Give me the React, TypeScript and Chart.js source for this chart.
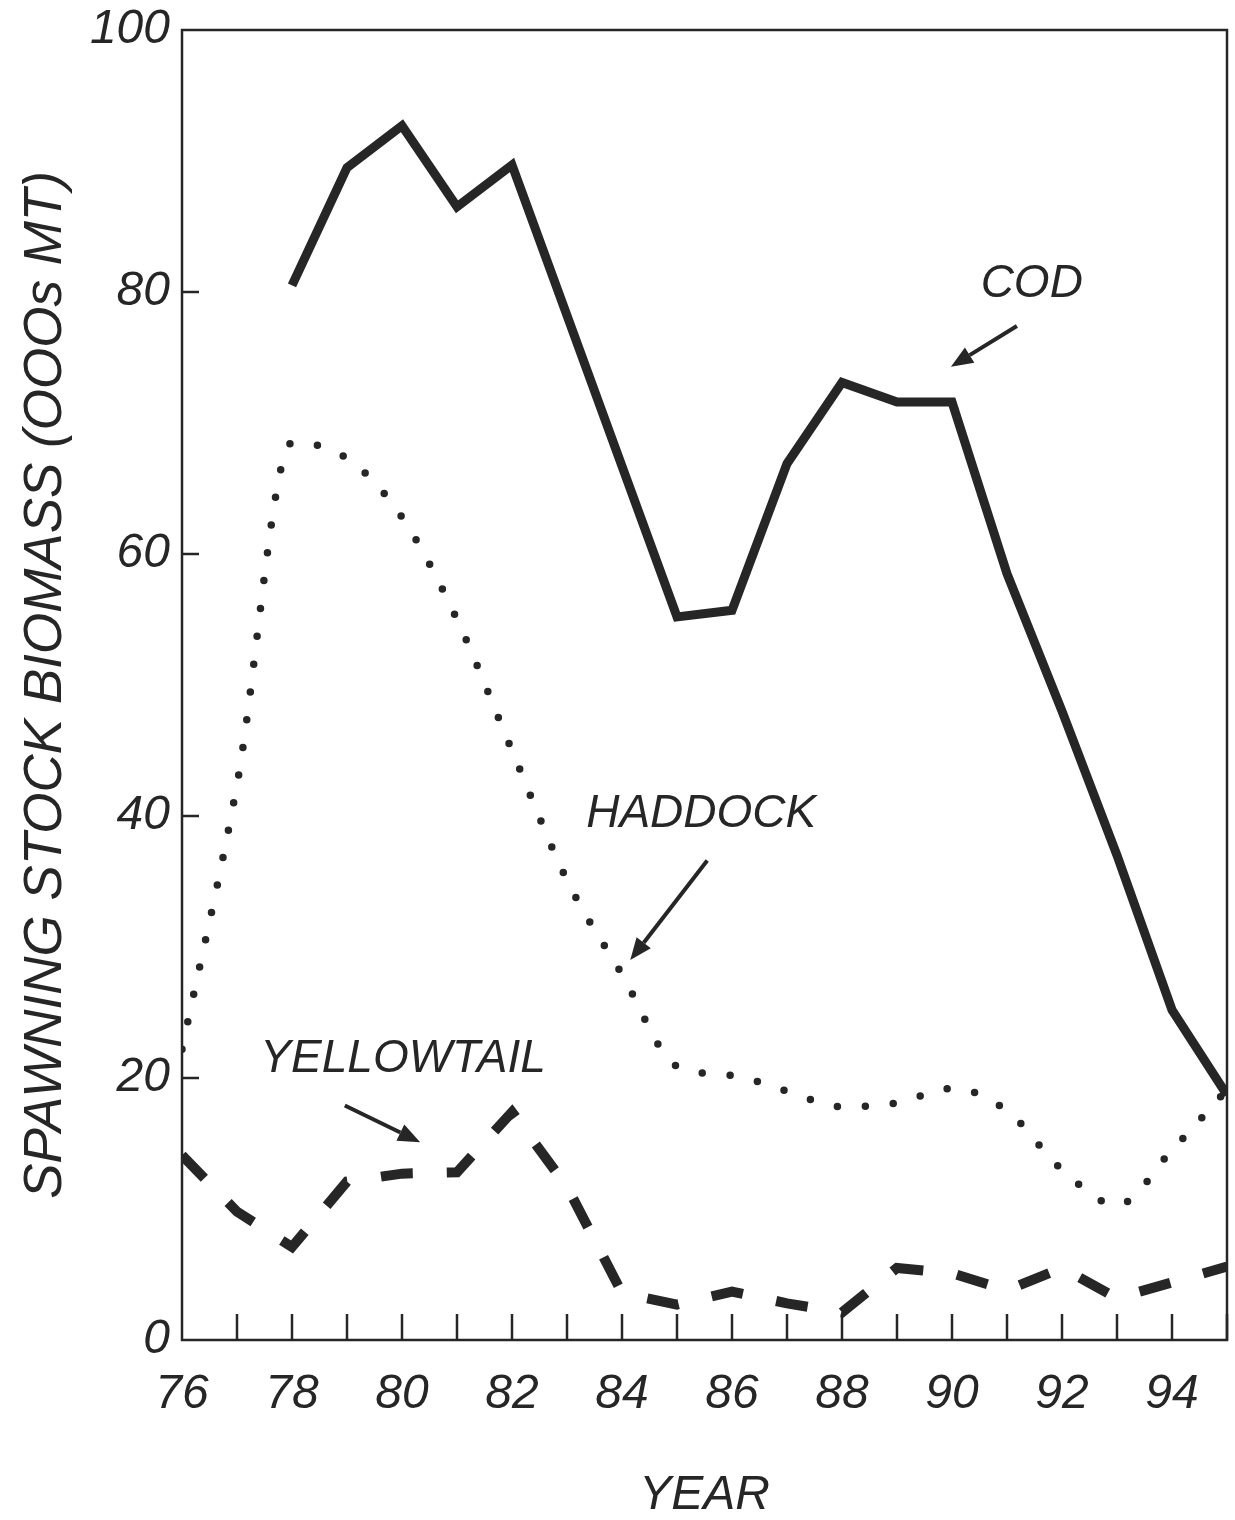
import React, { useEffect, useRef } from "react";
import { Chart, registerables } from "chart.js";

Chart.register(...registerables);

// ---- data ----
const years = [76, 77, 78, 79, 80, 81, 82, 83, 84, 85, 86, 87, 88, 89, 90, 91, 92, 93, 94, 95];
const cod = [null, null, 80.5, 89.5, 92.7, 86.5, 89.7, 78.2, 66.7, 55.2, 55.7, 66.9, 73.1, 71.6, 71.6, 58.5, 48.0, 37.0, 25.2, 18.7];
const haddock = [22.2, 42.4, 68.5, 67.3, 62.8, 55.0, 45.0, 35.1, 27.9, 20.9, 20.2, 19.0, 17.8, 18.1, 19.2, 17.5, 13.0, 10.3, 14.5, 19.1];
const yellowtail = [14.1, 9.8, 7.1, 12.1, 12.7, 12.8, 17.4, 11.7, 3.6, 2.7, 3.7, 2.8, 2.1, 5.5, 5.1, 3.8, 5.5, 3.2, 4.4, 5.6];
const seriesNames = ["COD", "HADDOCK", "YELLOWTAIL"];
const xLabelYears = [76, 78, 80, 82, 84, 86, 88, 90, 92, 94];
const yTickValues = [0, 20, 40, 60, 80, 100];

// annotation labels & arrows in data coordinates [year, value]
const labelAt = [[91.45, 80.6], [85.44, 40.1], [80.02, 21.4]];
const arrowFrom = [[91.18, 77.4], [85.55, 36.6], [78.96, 17.9]];
const arrowTo = [[89.98, 74.3], [84.15, 29.0], [80.33, 15.1]];

const INK = "#262626";
const FONT = '"Liberation Sans", Arial, Helvetica, sans-serif';

const toPoints = (vals: (number | null)[]) =>
  vals.map((v, i) => ({ x: years[i], y: v }));

const framePlugin = {
  id: "frameAndNotes",
  afterDatasetsDraw(chart: any) {
    const { ctx, chartArea, scales } = chart;
    const { left, right, top, bottom } = chartArea;
    const xs = scales.x;
    const ys = scales.y;
    ctx.save();
    ctx.strokeStyle = INK;
    ctx.lineWidth = 2.5;
    ctx.strokeRect(left, top, right - left, bottom - top);
    // inward x ticks
    xs.ticks.forEach((t: any) => {
      if (t.value <= xs.min) return;
      const px = xs.getPixelForValue(t.value);
      ctx.beginPath();
      ctx.moveTo(px, bottom);
      ctx.lineTo(px, bottom - 26);
      ctx.stroke();
    });
    // inward y ticks
    ys.ticks.forEach((t: any) => {
      if (t.value <= ys.min || t.value >= ys.max) return;
      const py = ys.getPixelForValue(t.value);
      ctx.beginPath();
      ctx.moveTo(left, py);
      ctx.lineTo(left + 17, py);
      ctx.stroke();
    });
    // annotations
    ctx.fillStyle = INK;
    ctx.font = `italic 46px ${FONT}`;
    ctx.textAlign = "center";
    ctx.textBaseline = "middle";
    seriesNames.forEach((name, i) => {
      ctx.fillText(name, xs.getPixelForValue(labelAt[i][0]), ys.getPixelForValue(labelAt[i][1]));
      const x1 = xs.getPixelForValue(arrowFrom[i][0]);
      const y1 = ys.getPixelForValue(arrowFrom[i][1]);
      const x2 = xs.getPixelForValue(arrowTo[i][0]);
      const y2 = ys.getPixelForValue(arrowTo[i][1]);
      const ang = Math.atan2(y2 - y1, x2 - x1);
      const headLen = 22;
      const headW = 9;
      const bx = x2 - headLen * Math.cos(ang);
      const by = y2 - headLen * Math.sin(ang);
      ctx.lineWidth = 4;
      ctx.beginPath();
      ctx.moveTo(x1, y1);
      ctx.lineTo(bx, by);
      ctx.stroke();
      ctx.beginPath();
      ctx.moveTo(x2, y2);
      ctx.lineTo(bx + headW * Math.sin(ang), by - headW * Math.cos(ang));
      ctx.lineTo(bx - headW * Math.sin(ang), by + headW * Math.cos(ang));
      ctx.closePath();
      ctx.fill();
    });
    ctx.restore();
  },
};

export default function App() {
  const ref = useRef<HTMLCanvasElement | null>(null);

  useEffect(() => {
    if (!ref.current) return;
    const chart = new Chart(ref.current, {
      type: "line",
      data: {
        datasets: [
          {
            label: seriesNames[0],
            data: toPoints(cod),
            borderColor: INK,
            borderWidth: 9,
            pointRadius: 0,
            tension: 0,
            borderJoinStyle: "miter",
            borderCapStyle: "butt",
            spanGaps: false,
          },
          {
            label: seriesNames[1],
            data: toPoints(haddock),
            borderColor: INK,
            borderWidth: 7.5,
            borderDash: [0, 28],
            borderCapStyle: "round",
            pointRadius: 0,
            cubicInterpolationMode: "monotone",
          },
          {
            label: seriesNames[2],
            data: toPoints(yellowtail),
            borderColor: INK,
            borderWidth: 10,
            borderDash: [32, 34],
            borderCapStyle: "butt",
            borderJoinStyle: "miter",
            pointRadius: 0,
            tension: 0,
          },
        ],
      } as any,
      plugins: [framePlugin],
      options: {
        animation: false,
        responsive: false,
        maintainAspectRatio: false,
        devicePixelRatio: 1,
        layout: { padding: { top: 30, right: 8, left: 0, bottom: 0 } },
        plugins: { legend: { display: false }, tooltip: { enabled: false } },
        scales: {
          x: {
            type: "linear",
            min: 76,
            max: 95,
            grid: { display: false, drawTicks: false },
            border: { display: false },
            afterFit: (s: any) => {
              s.height = 180;
              s.paddingLeft = 0;
              s.paddingRight = 0;
            },
            afterBuildTicks: (s: any) => {
              s.ticks = years.map((v) => ({ value: v }));
            },
            ticks: {
              autoSkip: false,
              maxRotation: 0,
              padding: 26,
              color: INK,
              font: { family: FONT, size: 48, style: "italic" },
              callback: (v: any) => (xLabelYears.includes(Number(v)) ? String(v) : ""),
            },
            title: {
              display: true,
              text: "YEAR",
              color: INK,
              padding: { top: 0, bottom: 0 },
              font: { family: FONT, size: 48, style: "italic", lineHeight: 1 },
            },
          },
          y: {
            type: "linear",
            min: 0,
            max: 100,
            grid: { display: false, drawTicks: false },
            border: { display: false },
            afterFit: (s: any) => {
              s.width = 182;
              s.paddingTop = 0;
              s.paddingBottom = 0;
            },
            afterBuildTicks: (s: any) => {
              s.ticks = yTickValues.map((v) => ({ value: v }));
            },
            ticks: {
              padding: 12,
              color: INK,
              font: { family: FONT, size: 48, style: "italic" },
            },
            title: {
              display: true,
              text: "SPAWNING STOCK BIOMASS (OOOs MT)",
              color: INK,
              padding: { top: 14, bottom: 0 },
              font: { family: FONT, size: 53, style: "italic" },
            },
          },
        },
      } as any,
    });
    return () => chart.destroy();
  }, []);

  return (
    <div style={{ position: "absolute", left: 0, top: 0, width: 1235, height: 1520, background: "#fff" }}>
      <canvas ref={ref} width={1235} height={1520} style={{ width: 1235, height: 1520, display: "block" }} />
    </div>
  );
}
